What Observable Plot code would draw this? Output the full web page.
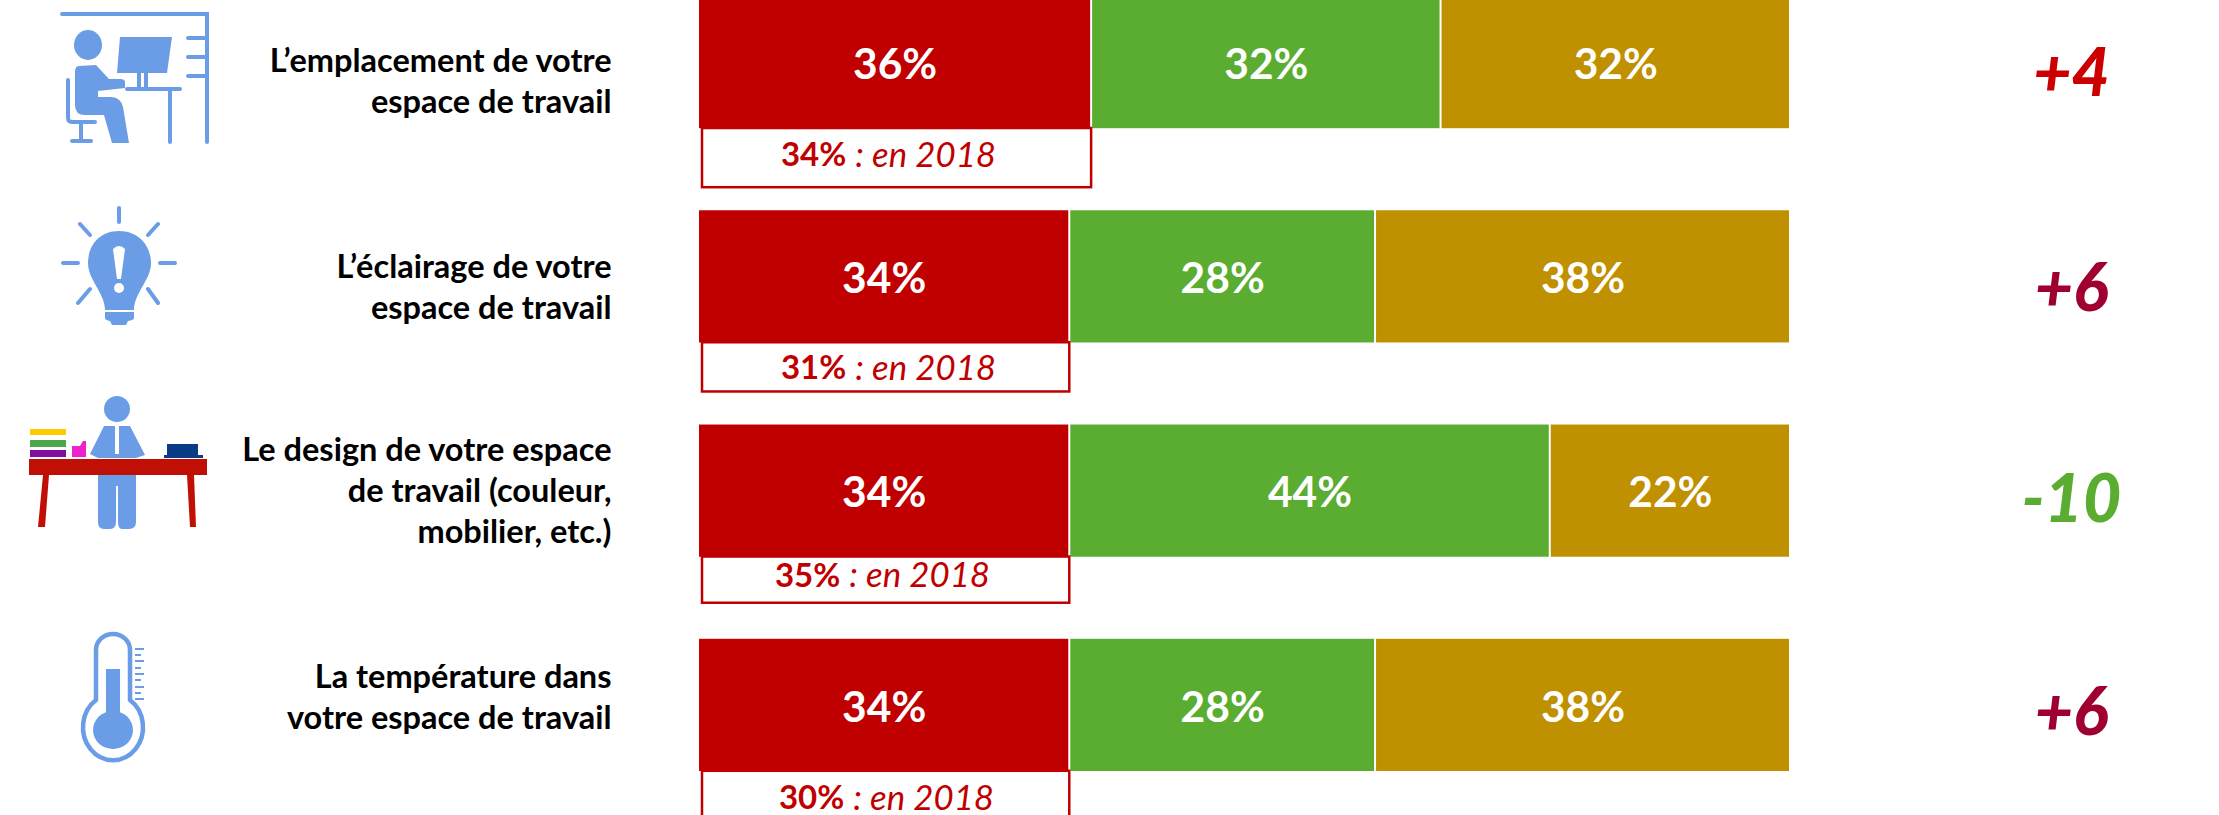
<!doctype html>
<html><head><meta charset="utf-8">
<style>html,body{margin:0;padding:0;background:#fff}svg{display:block}</style>
<script src="https://cdn.jsdelivr.net/npm/d3@7"></script>
<script src="https://cdn.jsdelivr.net/npm/@observablehq/plot@0.6"></script>
</head><body><div id="chart"></div>
<script>
const categories = ["emplacement","eclairage","design","temperature"];
const labels = ["L’emplacement de votre\nespace de travail","L’éclairage de votre\nespace de travail","Le design de votre espace\nde travail (couleur,\nmobilier, etc.)","La température dans\nvotre espace de travail"];
const seriesNames = ["a","b","c"];
const seriesA = [36,34,34,34];
const seriesB = [32,28,44,28];
const seriesC = [32,38,22,38];
const prior2018 = [34,31,35,30];
const deltas = ["+4","+6","-10","+6"];

const deltaColors = ["#CC0000","#A00030","#5BAD31","#A00030"];
const labelDy = [17,9,-2,-10];
const deltaDy = [12,13,10,8];
const boxDepth = [59,49,46,60];
const priorDy = [93,92,85,93];
const priorDx = [0,0,-6,-2];
const FF = "Lato";

const segs = categories.flatMap((c,i)=>[
  {c,s:"a",v:seriesA[i]},{c,s:"b",v:seriesB[i]},{c,s:"c",v:seriesC[i]}]);
const rows = categories.map((c,i)=>({c,i,label:labels[i],a:seriesA[i],p:prior2018[i]+"%",d:deltas[i]}));

const B="#6A9DE6";
const icons = `
<g fill="${B}" stroke="none">
 <g stroke="${B}" stroke-linecap="round" fill="none" stroke-width="4">
  <path d="M62 14H207V142M188 38H207M188 57H207M188 76H207"/>
  <path d="M127 89H180M170 89V142"/>
  <path d="M68 80V118Q68 122 73 122H95M81 122V141M72 141H91" />
  <path d="M139 73V88M146 73V88" />
 </g>
 <ellipse cx="88" cy="45" rx="14" ry="15"/>
 <path d="M120 37H172L167 73H117Z"/>
 <path d="M79 66Q75 66 75 72V105Q75 115 85 115H104L112 143H129L123 107Q121 98 112 97H98V91L125 88V82Q125 79 120 79H109L96 65Z"/>

 <g stroke="${B}" stroke-linecap="round" stroke-width="4">
  <path d="M119 208V222M80 224L90 235M158 224L148 235M63 263H78M160 263H175M78 303L90 289M158 303L148 289"/>
 </g>
 <path d="M119 231C99 231 88 246 88 263C88 280 105 293 105 310H134C134 293 151 280 151 263C151 246 139 231 119 231Z"/>
 <path d="M105 312H134V318Q134 320 128 321L126 325H112L110 321Q105 320 105 318Z"/>
 <path d="M113 249Q119 243 125 249L121 279H117Z" fill="#fff"/>
 <circle cx="119" cy="288" r="5" fill="#fff"/>

 <ellipse cx="117" cy="409" rx="13" ry="13"/>
 <path d="M104 426H130L145 455L136 458H98L90 454Z"/>
 <path d="M115 426H119L119 454H115Z" fill="#fff"/>
 <path d="M98 475H136V522Q136 529 129 529H122Q118 529 118 522V486H116V522Q116 529 110 529H104Q98 529 98 522Z"/>
 <rect x="30" y="429" width="36" height="6" fill="#FFCC00"/>
 <rect x="30" y="440" width="36" height="7" fill="#4CA64C"/>
 <rect x="30" y="450" width="36" height="7" fill="#7F0F9F"/>
 <path d="M72 446H80L83 441H86V457H72Z" fill="#EE22CC"/>
 <path d="M167 444H198V455H203V458H164V455H167Z" fill="#0A3B87"/>
 <rect x="29" y="459" width="178" height="16" fill="#C01005"/>
 <path d="M43 475H49L45 527H38Z M187 475H194L196 527H190Z" fill="#C01005"/>

 <path d="M96 700V650A17 16 0 0 1 130 650V700A30 33 0 1 1 96 700Z" fill="none" stroke="${B}" stroke-width="4.5"/>
 <rect x="106" y="669" width="14" height="50"/>
 <ellipse cx="113" cy="730" rx="20" ry="19"/>
 <path d="M135 649H144M135 655H141M135 661H144M135 668H141M135 674H144M135 680H141M135 687H144M135 693H141M135 699H144" stroke="${B}" stroke-width="1.8"/>
</g>`;

const chart = Plot.plot({
  width:2219, height:815,
  marginLeft:0, marginRight:0, marginTop:0, marginBottom:0,
  x:{domain:[0,100], range:[698,1790], axis:null},
  y:{type:"band", domain:categories, range:[-4,771], paddingInner:0.383, paddingOuter:0, align:0, round:false, axis:null},
  color:{domain:seriesNames, range:["#C00000","#5BAD31","#BF9000"]},
  marks:[
    Plot.barX(segs, Plot.stackX({x:"v", y:"c", fill:"s", order:seriesNames, insetLeft:1, insetRight:1})),
    Plot.text(segs, Plot.stackX({x:"v", y:"c", z:"c", order:seriesNames, text:d=>d.v+"%", fill:"white",
      fontFamily:FF, fontWeight:700, fontSize:42.5, dy:2.5})),
    ...rows.flatMap(r=>[
      Plot.barX([r], {x:"a", y:"c", fill:"white", stroke:"#C00000", strokeWidth:2.5,
        insetLeft:4, insetTop:132, insetBottom:-boxDepth[r.i]}),
      Plot.text([r], {x:15, y:"c", text:"p", textAnchor:"end", fill:"#C00000", fontFamily:FF, fontWeight:700, fontSize:33,
        dx:priorDx[r.i]-16, dy:priorDy[r.i]}),
      Plot.text([r], {x:15, y:"c", text:()=>": en 2018", textAnchor:"start", fill:"#C00000", fontFamily:FF, fontStyle:"italic", fontSize:34.8,
        dx:priorDx[r.i]-7, dy:priorDy[r.i]}),
      Plot.text([r], {x:0, y:"c", text:"label", textAnchor:"end", fill:"black", fontFamily:FF, fontWeight:700, fontSize:32.5,
        lineHeight:41/32.5, dx:-87, dy:labelDy[r.i]}),
      Plot.text([r], {x:100, y:"c", text:"d", fill:deltaColors[r.i], fontFamily:FF, fontWeight:900, fontStyle:"italic", fontSize:66,
        dx:281, dy:deltaDy[r.i]})
    ]),
    () => { const g = d3.create("svg:g"); g.html(icons); return g.node(); }
  ]
});
document.getElementById("chart").append(chart);
</script></body></html>
